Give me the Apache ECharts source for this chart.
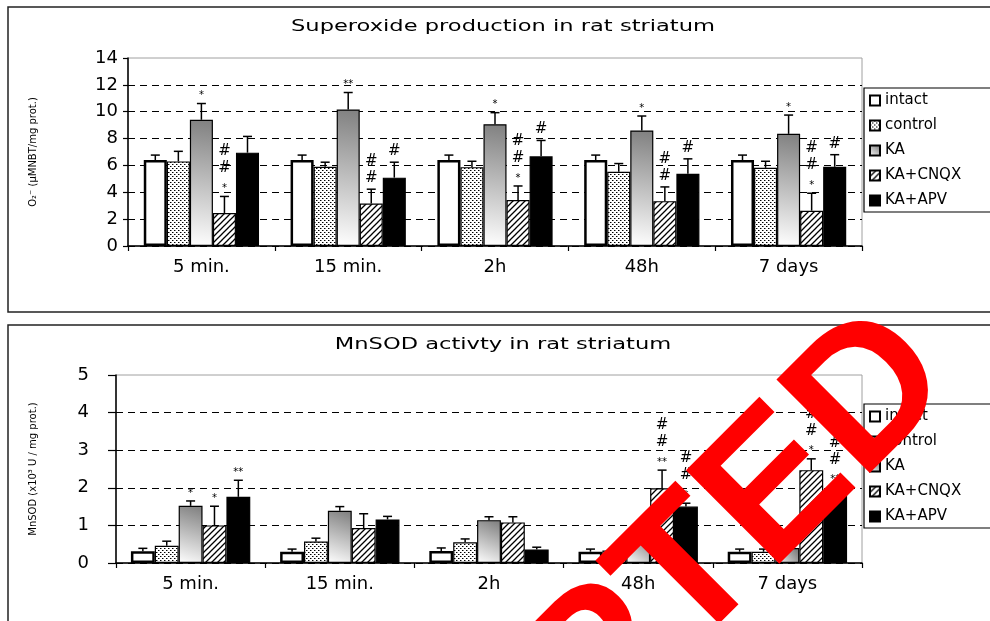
<!DOCTYPE html>
<html><head><meta charset="utf-8">
<script src="https://cdn.jsdelivr.net/npm/echarts@6/dist/echarts.min.js"></script>
<style>html,body{margin:0;padding:0;background:#fff}#c{width:990px;height:621px}</style>
</head><body><div id="c"></div>
<script>
// ---------- data ----------
const categories = ['5 min.', '15 min.', '2h', '48h', '7 days'];
const seriesNames = ['intact', 'control', 'KA', 'KA+CNQX', 'KA+APV'];
const supTicks = [0, 2, 4, 6, 8, 10, 12, 14];
const sodTicks = [0, 1, 2, 3, 4, 5];

// Superoxide production (means and SEM)
const supIntact = [6.4, 6.4, 6.4, 6.4, 6.4];
const supIntactErr = [0.37, 0.37, 0.37, 0.37, 0.37];
const supControl = [6.3, 5.9, 5.87, 5.53, 5.82];
const supControlErr = [0.75, 0.34, 0.44, 0.61, 0.49];
const supKA = [9.4, 10.17, 9.07, 8.6, 8.35];
const supKAErr = [1.21, 1.26, 0.86, 1.08, 1.4];
const supCNQX = [2.46, 3.17, 3.42, 3.34, 2.63];
const supCNQXErr = [1.23, 1.06, 1.05, 1.06, 1.3];
const supAPV = [6.95, 5.09, 6.68, 5.38, 5.9];
const supAPVErr = [1.21, 1.15, 1.18, 1.11, 0.9];
const supKANote = ['*', '**', '*', '*', '*'];
const supCNQXNote = ['#\n#\n*', '#\n#', '#\n#\n*', '#\n#', '#\n#\n*'];
const supAPVNote = ['', '#', '#', '#', '#'];

// MnSOD activity (means and SEM)
const sodIntact = [0.31, 0.3, 0.32, 0.3, 0.3];
const sodIntactErr = [0.08, 0.07, 0.08, 0.07, 0.07];
const sodControl = [0.46, 0.57, 0.55, 0.33, 0.3];
const sodControlErr = [0.12, 0.09, 0.09, 0.06, 0.07];
const sodKA = [1.52, 1.39, 1.14, 0.72, 0.4];
const sodKAErr = [0.13, 0.11, 0.09, 0.1, 0.08];
const sodCNQX = [1.0, 0.93, 1.08, 1.99, 2.47];
const sodCNQXErr = [0.51, 0.38, 0.15, 0.48, 0.3];
const sodAPV = [1.76, 1.16, 0.36, 1.5, 1.88];
const sodAPVErr = [0.44, 0.08, 0.06, 0.09, 0.12];
const sodKANote = ['*', '', '', '', ''];
const sodCNQXNote = ['*', '', '', '#\n#\n**', '#\n#\n*'];
const sodAPVNote = ['**', '', '', '#\n#\n*', '#\n#\n**'];

// ---------- styles ----------
const FONT = 'DejaVu Sans';
function dotPattern() {
  const c = document.createElement('canvas'); c.width = 4; c.height = 4;
  const g = c.getContext('2d');
  g.fillStyle = '#fff'; g.fillRect(0, 0, 4, 4);
  g.fillStyle = '#000'; g.fillRect(0, 0, 1, 1); g.fillRect(2, 2, 1, 1);
  g.fillStyle = '#888'; g.fillRect(1, 0, 1, 1); g.fillRect(3, 2, 1, 1);
  return c;
}
function hatchPattern() {
  const s = 6;
  const c = document.createElement('canvas'); c.width = s; c.height = s;
  const g = c.getContext('2d');
  g.fillStyle = '#fff'; g.fillRect(0, 0, s, s);
  g.strokeStyle = '#000'; g.lineWidth = 1.3;
  g.beginPath();
  g.moveTo(-1, s + 1); g.lineTo(s + 1, -1);
  g.moveTo(-2, 2); g.lineTo(2, -2);
  g.moveTo(s - 2, s + 2); g.lineTo(s + 2, s - 2);
  g.stroke();
  return c;
}
const kaGrad = new echarts.graphic.LinearGradient(0, 1, 0.8, 0, [
  { offset: 0, color: '#ffffff' }, { offset: 1, color: '#808080' }]);
const barStyles = [
  { color: '#fff', borderColor: '#000', borderWidth: 2.5 },
  { color: { image: dotPattern(), repeat: 'repeat' }, borderColor: '#000', borderWidth: 1.2 },
  { color: kaGrad, borderColor: '#000', borderWidth: 1.2 },
  { color: { image: hatchPattern(), repeat: 'repeat' }, borderColor: '#000', borderWidth: 1.2 },
  { color: '#000', borderColor: '#000', borderWidth: 1.2 }
];

function makeBars(g, values, gap) {
  return seriesNames.map((n, k) => ({
    type: 'bar', name: n, xAxisIndex: g, yAxisIndex: g, data: values[k],
    barGap: '0%', barCategoryGap: (gap * 100) + '%',
    itemStyle: barStyles[k], emphasis: { disabled: true }, z: 2
  }));
}
function makeErr(g, k, means, errs, notes, gap) {
  return {
    type: 'custom', xAxisIndex: g, yAxisIndex: g, z: 5, silent: true,
    data: means.map((m, i) => [i, m, m + errs[i]]),
    encode: { x: 0, y: [1, 2] },
    renderItem(params, api) {
      const i = api.value(0);
      const band = api.size([1, 0])[0];
      const bw = band * (1 - gap) / 5;
      const cx = api.coord([i, 0])[0] + (k - 2) * bw;
      const yb = api.coord([i, api.value(1)])[1];
      const yt = api.coord([i, api.value(2)])[1];
      const ch = [
        { type: 'line', shape: { x1: cx, y1: yb, x2: cx, y2: yt }, style: { stroke: '#000', lineWidth: 1.5 } },
        { type: 'line', shape: { x1: cx - 4.5, y1: yt, x2: cx + 4.5, y2: yt }, style: { stroke: '#000', lineWidth: 1.5 } }
      ];
      const note = notes ? notes[i] : '';
      if (note) {
        note.split('\n').reverse().forEach((t, j) => {
          const star = t.indexOf('*') >= 0;
          ch.push({ type: 'text', x: cx, y: yt - (star ? 8 : 11) - 17 * j,
            style: { text: t, fill: '#000', fontFamily: FONT, fontSize: star ? 10 : 15,
              align: 'center', verticalAlign: 'middle' } });
        });
      }
      return { type: 'group', children: ch };
    }
  };
}

const supVals = [supIntact, supControl, supKA, supCNQX, supAPV];
const supErrs = [supIntactErr, supControlErr, supKAErr, supCNQXErr, supAPVErr];
const supNotes = [null, null, supKANote, supCNQXNote, supAPVNote];
const sodVals = [sodIntact, sodControl, sodKA, sodCNQX, sodAPV];
const sodErrs = [sodIntactErr, sodControlErr, sodKAErr, sodCNQXErr, sodAPVErr];
const sodNotes = [null, null, sodKANote, sodCNQXNote, sodAPVNote];
const GAP_TOP = 0.215, GAP_BOT = 0.2;

const series = [].concat(
  makeBars(0, supVals, GAP_TOP),
  makeBars(1, sodVals, GAP_BOT),
  seriesNames.map((n, k) => makeErr(0, k, supVals[k], supErrs[k], supNotes[k], GAP_TOP)),
  seriesNames.map((n, k) => makeErr(1, k, sodVals[k], sodErrs[k], sodNotes[k], GAP_BOT))
);

function xAx(g) {
  return {
    type: 'category', gridIndex: g, data: categories,
    axisLine: { lineStyle: { color: '#000', width: 1.5 } },
    axisTick: { show: true, length: 5, lineStyle: { color: '#000', width: 1.2 } },
    axisLabel: { color: '#000', fontFamily: FONT, fontSize: 18, margin: 12 },
    splitLine: { show: false }
  };
}
function yAx(g, ticks, name, gap, margin, tickLen) {
  return {
    type: 'value', gridIndex: g, min: ticks[0], max: ticks[ticks.length - 1],
    interval: ticks[1] - ticks[0],
    name: name, nameLocation: 'middle', nameRotate: 90, nameGap: gap,
    nameTextStyle: { color: '#000', fontFamily: FONT, fontSize: 10 },
    axisLine: { show: true, lineStyle: { color: '#000', width: 1.5 } },
    axisTick: { show: true, length: tickLen, lineStyle: { color: '#000', width: 1.2 } },
    axisLabel: { color: '#000', fontFamily: FONT, fontSize: 18, margin: margin },
    splitLine: { show: true, showMaxLine: false, lineStyle: { color: '#000', type: [7, 5], width: 1.1 } }
  };
}
function legendAt(top) {
  return {
    orient: 'vertical', left: 864, top: top, data: seriesNames,
    icon: 'rect', itemWidth: 10, itemHeight: 10, itemGap: 10,
    padding: [5, 40, 4, 5], borderColor: '#000', borderWidth: 1.2,
    backgroundColor: '#fff', selectedMode: false,
    textStyle: { color: '#000', fontFamily: FONT, fontSize: 15, lineHeight: 12, padding: [0, 0, 0, 0] }
  };
}

const chart = echarts.init(document.getElementById('c'), null, { renderer: 'canvas' });
chart.setOption({
  animation: false,
  backgroundColor: '#fff',
  grid: [
    { left: 128, top: 58, width: 734, height: 188, show: true, borderColor: '#a0a0a0', borderWidth: 1, backgroundColor: 'transparent' },
    { left: 116, top: 375, width: 746, height: 188, show: true, borderColor: '#a0a0a0', borderWidth: 1, backgroundColor: 'transparent' }
  ],
  xAxis: [xAx(0), xAx(1)],
  yAxis: [
    yAx(0, supTicks, 'O₂⁻ (µMNBT/mg prot.)', 90, 10, 5),
    yAx(1, sodTicks, 'MnSOD (x10³ U / mg prot.)', 78, 27, 8)
  ],
  legend: [legendAt(88), legendAt(404)],
  series: series,
  graphic: [
    { type: 'rect', shape: { x: 8, y: 7, width: 1000, height: 305 }, style: { fill: 'none', stroke: '#222', lineWidth: 1.5 }, z: -1 },
    { type: 'rect', shape: { x: 8, y: 325, width: 1000, height: 400 }, style: { fill: 'none', stroke: '#222', lineWidth: 1.5 }, z: -1 },
    { type: 'text', x: 503, y: 27, scaleX: 1.41, style: { text: 'Superoxide production in rat striatum', fill: '#000', fontFamily: FONT, fontSize: 16, align: 'center', verticalAlign: 'middle' } },
    { type: 'text', x: 503, y: 345, scaleX: 1.41, style: { text: 'MnSOD activty in rat striatum', fill: '#000', fontFamily: FONT, fontSize: 16, align: 'center', verticalAlign: 'middle' } },
    { type: 'text', x: 548, y: 720, rotation: Math.PI / 4, z: 100, style: { text: 'ACCEPTED', fill: '#ff0000', fontFamily: 'Liberation Sans', fontWeight: 'bold', fontSize: 192, align: 'center', verticalAlign: 'middle' } }
  ]
});
</script></body></html>
